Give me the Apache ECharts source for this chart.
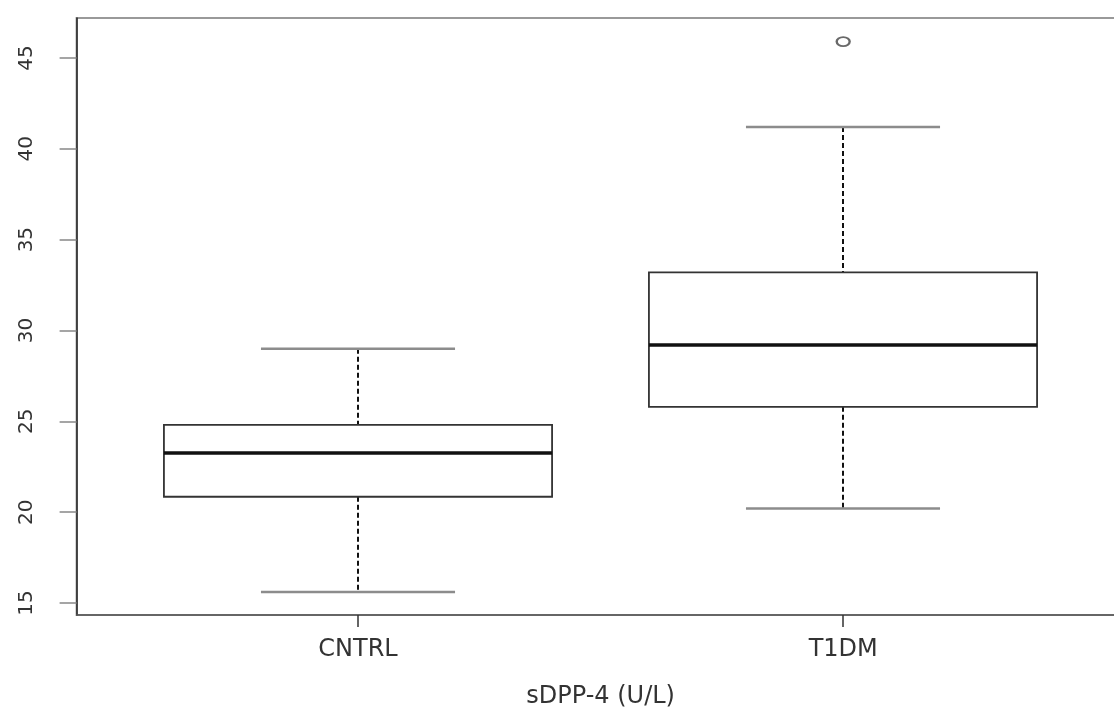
<!DOCTYPE html>
<html>
<head>
<meta charset="utf-8">
<script src="https://cdn.jsdelivr.net/npm/echarts@6/dist/echarts.min.js"></script>
<style>
	html, body { margin: 0; padding: 0; background: #fff; }
	#chart { width: 1114px; height: 709px; }
</style>
</head>
<body>
<div id="chart"></div>
<script>
// groups
var categories = ['CNTRL', 'T1DM'];
// box summaries
var whiskerLow  = [15.6, 20.2];
var quartile1   = [20.85, 25.8];
var medians     = [23.25, 29.2];
var quartile3   = [24.8, 33.2];
var whiskerHigh = [29.0, 41.2];
// outliers: [group position, value]
var outliers = [[2, 45.9]];
// tick positions
var xTicks = [1, 2];
var yTicks = [15, 20, 25, 30, 35, 40, 45];

var boxData = categories.map(function (c, i) {
	return [i + 1, whiskerLow[i], quartile1[i], medians[i], quartile3[i], whiskerHigh[i]];
});

var FONT = 'DejaVu Sans';

// draws one box with dashed whiskers, grey staples and a thick median
function renderBox(params, api) {
	var x = api.value(0);
	var lo = api.coord([x, api.value(1)]);
	var q1 = api.coord([x, api.value(2)]);
	var med = api.coord([x, api.value(3)]);
	var q3 = api.coord([x, api.value(4)]);
	var hi = api.coord([x, api.value(5)]);
	var halfBox = api.size([0.4, 0])[0];
	var halfCap = halfBox / 2;
	var cx = Math.round(lo[0]);
	var dashed = { stroke: '#111', lineWidth: 2, lineDash: [5, 3] };
	var staple = { stroke: '#8c8c8c', lineWidth: 2.5 };
	return {
		type: 'group',
		children: [
			{ type: 'line', shape: { x1: cx, y1: hi[1], x2: cx, y2: q3[1] }, style: dashed },
			{ type: 'line', shape: { x1: cx, y1: q1[1], x2: cx, y2: lo[1] }, style: dashed },
			{ type: 'line', shape: { x1: cx - halfCap, y1: hi[1], x2: cx + halfCap, y2: hi[1] }, style: staple },
			{ type: 'line', shape: { x1: cx - halfCap, y1: lo[1], x2: cx + halfCap, y2: lo[1] }, style: staple },
			{ type: 'rect', shape: { x: cx - halfBox, y: q3[1], width: halfBox * 2, height: q1[1] - q3[1] },
				style: { fill: 'rgba(0,0,0,0)', stroke: '#333', lineWidth: 1.8 } },
			{ type: 'line', shape: { x1: cx - halfBox, y1: med[1], x2: cx + halfBox, y2: med[1] },
				style: { stroke: '#111', lineWidth: 3.5 } }
		]
	};
}

var myChart = echarts.init(document.getElementById('chart'));
myChart.setOption({
	animation: false,
	grid: {
		left: 76.6,
		right: -10.6,
		top: 18,
		bottom: 94,
		show: true,
		borderColor: '#999',
		borderWidth: 2,
		outerBoundsMode: 'none'
	},
	xAxis: {
		type: 'value',
		min: 0.42,
		max: 2.58,
		splitLine: { show: false },
		axisLine: { show: true, lineStyle: { color: '#555', width: 1.5 } },
		axisTick: { show: true, customValues: xTicks, length: 12, lineStyle: { color: '#333', width: 1.5 } },
		axisLabel: {
			customValues: xTicks,
			formatter: function (v) { return categories[Math.round(v) - 1]; },
			fontFamily: FONT,
			fontSize: 24,
			color: '#333',
			margin: 23
		},
		name: 'sDPP-4 (U/L)',
		nameLocation: 'middle',
		nameGap: 70,
		nameTextStyle: { fontFamily: FONT, fontSize: 24, color: '#333' }
	},
	yAxis: {
		type: 'value',
		min: 14.34,
		max: 47.2,
		splitLine: { show: false },
		axisLine: { show: true, lineStyle: { color: '#222', width: 1.5 } },
		axisTick: { show: true, customValues: yTicks, length: 17, lineStyle: { color: '#888', width: 1.5 } },
		axisLabel: {
			customValues: yTicks,
			rotate: 90,
			fontFamily: FONT,
			fontSize: 20,
			color: '#333',
			margin: 40
		}
	},
	series: [
		{
			type: 'custom',
			renderItem: renderBox,
			data: boxData,
			encode: { x: 0, y: [1, 2, 3, 4, 5] },
			z: 3
		},
		{
			type: 'scatter',
			data: outliers,
			symbol: 'emptyCircle',
			symbolSize: [13, 9],
			itemStyle: { color: '#444', borderWidth: 1.5 },
			z: 4
		}
	]
});
</script>
</body>
</html>
